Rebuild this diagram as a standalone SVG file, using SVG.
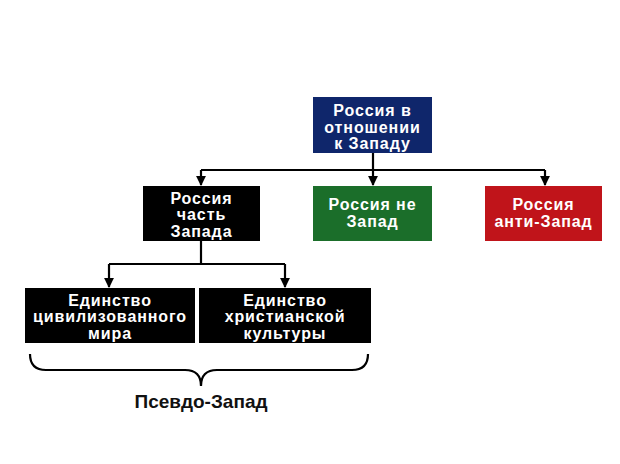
<svg xmlns="http://www.w3.org/2000/svg" width="620" height="464" viewBox="0 0 620 464">
<style>
.t{font-family:"Liberation Sans",Arial,sans-serif;font-weight:bold;font-size:16px;letter-spacing:0.9px;fill:#fff;text-anchor:middle}
.c{fill:none;stroke:#000;stroke-width:2.2}
.lbl{font-family:"Liberation Sans",Arial,sans-serif;font-weight:bold;font-size:19px;fill:#111;text-anchor:middle}
</style>
<defs>
<marker id="a" viewBox="0 0 10 10" refX="9" refY="5" markerWidth="4.5" markerHeight="4.5" orient="auto" markerUnits="strokeWidth">
<path d="M0,0 L10,5 L0,10 z" fill="#000"/>
</marker>
</defs>
<rect width="620" height="464" fill="#fff"/>
<g id="connectors">
<path class="c" d="M373,153 V170"/>
<path class="c" d="M201,170 H545"/>
<path class="c" d="M201,170 V185" marker-end="url(#a)"/>
<path class="c" d="M373,170 V185" marker-end="url(#a)"/>
<path class="c" d="M545,170 V185" marker-end="url(#a)"/>
<path class="c" d="M201,241 V264"/>
<path class="c" d="M109,264 H285"/>
<path class="c" d="M109,264 V287" marker-end="url(#a)"/>
<path class="c" d="M285,264 V287" marker-end="url(#a)"/>
</g>
<g id="root">
<rect x="313" y="97" width="119" height="56" fill="#0f266b"/>
<text class="t" x="372.5" y="116">Россия в</text>
<text class="t" x="372.5" y="132.5">отношении</text>
<text class="t" x="372.5" y="149">к Западу</text>
</g>
<g id="part">
<rect x="143" y="186" width="117" height="55" fill="#000"/>
<text class="t" x="201.5" y="203.5">Россия</text>
<text class="t" x="201.5" y="220">часть</text>
<text class="t" x="201.5" y="236.5">Запада</text>
</g>
<g id="notwest">
<rect x="313" y="186" width="119" height="55" fill="#1b6e2a"/>
<text class="t" x="372.5" y="210">Россия не</text>
<text class="t" x="372.5" y="226.5">Запад</text>
</g>
<g id="antiwest">
<rect x="485" y="186" width="117" height="55" fill="#c0141a"/>
<text class="t" x="543.5" y="210">Россия</text>
<text class="t" x="543.5" y="226.5">анти-Запад</text>
</g>
<g id="civ">
<rect x="25" y="288" width="170" height="55" fill="#000"/>
<text class="t" x="110" y="305.5">Единство</text>
<text class="t" x="110" y="322">цивилизованного</text>
<text class="t" x="110" y="338.5">мира</text>
</g>
<g id="christ">
<rect x="199" y="288" width="172" height="55" fill="#000"/>
<text class="t" x="285" y="305.5">Единство</text>
<text class="t" x="285" y="322">христианской</text>
<text class="t" x="285" y="338.5">культуры</text>
</g>
<g id="brace">
<path class="c" d="M30,354 Q30,370 46,370 H185 Q201,370 201,386 Q201,370 217,370 H352 Q368,370 368,354"/>
<text class="lbl" x="201" y="408">Псевдо-Запад</text>
</g>
</svg>
